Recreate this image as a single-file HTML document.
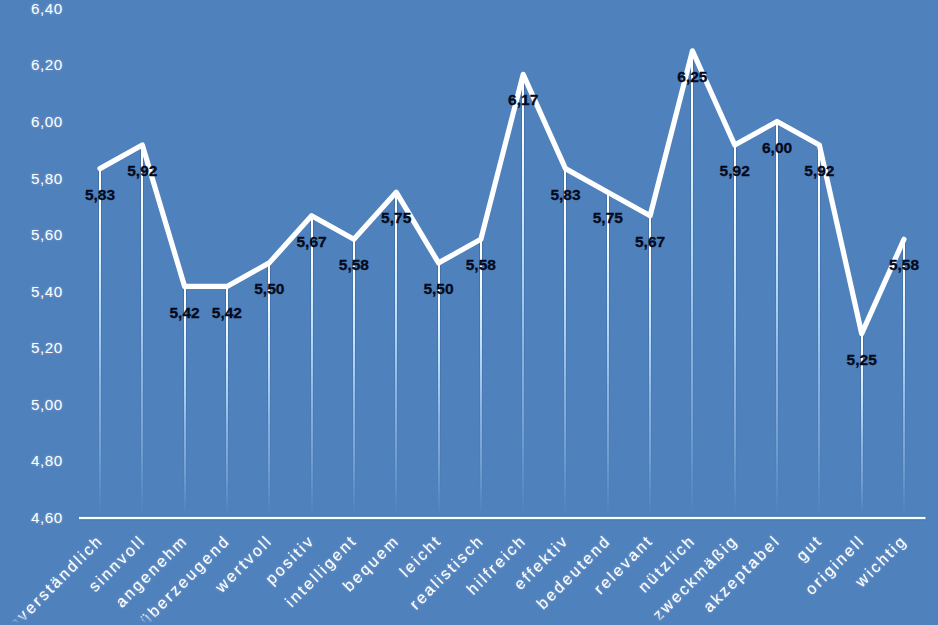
<!DOCTYPE html>
<html><head><meta charset="utf-8"><style>
html,body{margin:0;padding:0;}
body{width:938px;height:625px;overflow:hidden;background:#4F81BD;position:relative;font-family:"Liberation Sans",sans-serif;}
svg{position:absolute;left:0;top:0;}
.yl{position:absolute;color:#fff;text-shadow:0 0 3px rgba(255,255,255,0.35);font-size:15.2px;letter-spacing:0.5px;line-height:20px;height:20px;text-align:right;width:60px;}
.dl{position:absolute;color:#040a1a;-webkit-text-stroke:0.3px #040a1a;font-weight:bold;font-size:15.5px;letter-spacing:0px;line-height:20px;height:20px;width:60px;text-align:center;}
</style></head><body>

<svg width="938" height="625" viewBox="0 0 938 625">
<defs>
<linearGradient id="g" x1="0" y1="0" x2="0" y2="1"><stop offset="0" stop-color="#fff"/><stop offset="0.15" stop-color="#f5faff"/><stop offset="0.37" stop-color="#bee1ff"/><stop offset="0.62" stop-color="#8cb4e1"/><stop offset="0.81" stop-color="#73a0d2"/><stop offset="1" stop-color="#4f81bd"/></linearGradient>
<linearGradient id="h" x1="0" y1="0" x2="0" y2="1"><stop offset="0" stop-color="#1e3c64" stop-opacity="0.25"/><stop offset="1" stop-color="#1e3c64" stop-opacity="0"/></linearGradient>
<linearGradient id="fm" gradientUnits="userSpaceOnUse" x1="0" y1="614" x2="0" y2="623"><stop offset="0" stop-color="#fff"/><stop offset="1" stop-color="#000"/></linearGradient>
<mask id="m" maskUnits="userSpaceOnUse" x="0" y="0" width="938" height="625"><rect x="0" y="0" width="938" height="625" fill="url(#fm)"/></mask>
<filter id="gl" x="-5%" y="-5%" width="110%" height="110%"><feGaussianBlur in="SourceAlpha" stdDeviation="1.5" result="b"/><feFlood flood-color="#fff" flood-opacity="0.3"/><feComposite in2="b" operator="in" result="g"/><feMerge><feMergeNode in="g"/><feMergeNode in="SourceGraphic"/></feMerge></filter>
</defs>
<rect x="98" y="171.6" width="1" height="342.4" fill="url(#h)"/><rect x="101" y="171.6" width="1" height="342.4" fill="url(#h)"/>
<rect x="99" y="168.6" width="2.00" height="345.4" fill="url(#g)"/>
<rect x="140" y="148.0" width="1" height="366.0" fill="url(#h)"/><rect x="143" y="148.0" width="1" height="366.0" fill="url(#h)"/>
<rect x="141" y="145.0" width="2.00" height="369.0" fill="url(#g)"/>
<rect x="183" y="289.4" width="1" height="224.6" fill="url(#h)"/><rect x="186" y="289.4" width="1" height="224.6" fill="url(#h)"/>
<rect x="184" y="286.4" width="2.00" height="227.6" fill="url(#g)"/>
<rect x="225" y="289.4" width="1" height="224.6" fill="url(#h)"/><rect x="228" y="289.4" width="1" height="224.6" fill="url(#h)"/>
<rect x="226" y="286.4" width="2.00" height="227.6" fill="url(#g)"/>
<rect x="267" y="265.9" width="1" height="248.1" fill="url(#h)"/><rect x="270" y="265.9" width="1" height="248.1" fill="url(#h)"/>
<rect x="268" y="262.9" width="2.00" height="251.1" fill="url(#g)"/>
<rect x="310" y="218.7" width="1" height="295.3" fill="url(#h)"/><rect x="313" y="218.7" width="1" height="295.3" fill="url(#h)"/>
<rect x="311" y="215.7" width="2.00" height="298.3" fill="url(#g)"/>
<rect x="352" y="242.3" width="1" height="271.7" fill="url(#h)"/><rect x="355" y="242.3" width="1" height="271.7" fill="url(#h)"/>
<rect x="353" y="239.3" width="2.00" height="274.7" fill="url(#g)"/>
<rect x="394" y="195.2" width="1" height="318.8" fill="url(#h)"/><rect x="397" y="195.2" width="1" height="318.8" fill="url(#h)"/>
<rect x="395" y="192.2" width="2.00" height="321.8" fill="url(#g)"/>
<rect x="437" y="265.9" width="1" height="248.1" fill="url(#h)"/><rect x="440" y="265.9" width="1" height="248.1" fill="url(#h)"/>
<rect x="438" y="262.9" width="2.00" height="251.1" fill="url(#g)"/>
<rect x="479" y="242.3" width="1" height="271.7" fill="url(#h)"/><rect x="482" y="242.3" width="1" height="271.7" fill="url(#h)"/>
<rect x="480" y="239.3" width="2.00" height="274.7" fill="url(#g)"/>
<rect x="521" y="77.3" width="1" height="436.7" fill="url(#h)"/><rect x="524" y="77.3" width="1" height="436.7" fill="url(#h)"/>
<rect x="522" y="74.3" width="2.00" height="439.7" fill="url(#g)"/>
<rect x="563" y="171.6" width="1" height="342.4" fill="url(#h)"/><rect x="566" y="171.6" width="1" height="342.4" fill="url(#h)"/>
<rect x="564" y="168.6" width="2.00" height="345.4" fill="url(#g)"/>
<rect x="606" y="195.2" width="1" height="318.8" fill="url(#h)"/><rect x="609" y="195.2" width="1" height="318.8" fill="url(#h)"/>
<rect x="607" y="192.2" width="2.00" height="321.8" fill="url(#g)"/>
<rect x="648" y="218.7" width="1" height="295.3" fill="url(#h)"/><rect x="651" y="218.7" width="1" height="295.3" fill="url(#h)"/>
<rect x="649" y="215.7" width="2.00" height="298.3" fill="url(#g)"/>
<rect x="690" y="53.8" width="1" height="460.2" fill="url(#h)"/><rect x="693" y="53.8" width="1" height="460.2" fill="url(#h)"/>
<rect x="691" y="50.8" width="2.00" height="463.2" fill="url(#g)"/>
<rect x="733" y="148.0" width="1" height="366.0" fill="url(#h)"/><rect x="736" y="148.0" width="1" height="366.0" fill="url(#h)"/>
<rect x="734" y="145.0" width="2.00" height="369.0" fill="url(#g)"/>
<rect x="775" y="124.5" width="1" height="389.5" fill="url(#h)"/><rect x="778" y="124.5" width="1" height="389.5" fill="url(#h)"/>
<rect x="776" y="121.5" width="2.00" height="392.5" fill="url(#g)"/>
<rect x="817" y="148.0" width="1" height="366.0" fill="url(#h)"/><rect x="820" y="148.0" width="1" height="366.0" fill="url(#h)"/>
<rect x="818" y="145.0" width="2.00" height="369.0" fill="url(#g)"/>
<rect x="860" y="336.6" width="1" height="177.4" fill="url(#h)"/><rect x="863" y="336.6" width="1" height="177.4" fill="url(#h)"/>
<rect x="861" y="333.6" width="2.00" height="180.4" fill="url(#g)"/>
<rect x="902" y="242.3" width="1" height="271.7" fill="url(#h)"/><rect x="905" y="242.3" width="1" height="271.7" fill="url(#h)"/>
<rect x="903" y="239.3" width="2.00" height="274.7" fill="url(#g)"/>
<rect x="79.0" y="515.80" width="846.5" height="4.40" fill="#1e3c64" fill-opacity="0.25"/>
<rect x="79.0" y="516.80" width="846.5" height="2.40" fill="#f0ffff"/>
<polyline points="100.00,168.61 142.32,145.05 184.63,286.45 226.95,286.45 269.26,262.88 311.58,215.75 353.90,239.31 396.21,192.18 438.53,262.88 480.84,239.31 523.16,74.35 565.48,168.61 607.79,192.18 650.11,215.75 692.42,50.78 734.74,145.05 777.06,121.48 819.37,145.05 861.69,333.58 904.00,239.31" fill="none" stroke="#fff" stroke-width="5.20" stroke-linejoin="round" stroke-linecap="round"/>
<g mask="url(#m)"><g filter="url(#gl)">
<text x="0" y="0" transform="translate(104.30,541.50) rotate(-45)" text-anchor="end" fill="#fff" font-family="Liberation Sans" font-size="16" letter-spacing="2.4" stroke="#fff" stroke-width="0.12">unverständlich</text>
<text x="0" y="0" transform="translate(146.62,541.50) rotate(-45)" text-anchor="end" fill="#fff" font-family="Liberation Sans" font-size="16" letter-spacing="2.4" stroke="#fff" stroke-width="0.12">sinnvoll</text>
<text x="0" y="0" transform="translate(188.93,541.50) rotate(-45)" text-anchor="end" fill="#fff" font-family="Liberation Sans" font-size="16" letter-spacing="2.4" stroke="#fff" stroke-width="0.12">angenehm</text>
<text x="0" y="0" transform="translate(231.25,541.50) rotate(-45)" text-anchor="end" fill="#fff" font-family="Liberation Sans" font-size="16" letter-spacing="2.4" stroke="#fff" stroke-width="0.12">überzeugend</text>
<text x="0" y="0" transform="translate(273.56,541.50) rotate(-45)" text-anchor="end" fill="#fff" font-family="Liberation Sans" font-size="16" letter-spacing="2.4" stroke="#fff" stroke-width="0.12">wertvoll</text>
<text x="0" y="0" transform="translate(315.88,541.50) rotate(-45)" text-anchor="end" fill="#fff" font-family="Liberation Sans" font-size="16" letter-spacing="2.4" stroke="#fff" stroke-width="0.12">positiv</text>
<text x="0" y="0" transform="translate(358.20,541.50) rotate(-45)" text-anchor="end" fill="#fff" font-family="Liberation Sans" font-size="16" letter-spacing="2.4" stroke="#fff" stroke-width="0.12">intelligent</text>
<text x="0" y="0" transform="translate(400.51,541.50) rotate(-45)" text-anchor="end" fill="#fff" font-family="Liberation Sans" font-size="16" letter-spacing="2.4" stroke="#fff" stroke-width="0.12">bequem</text>
<text x="0" y="0" transform="translate(442.83,541.50) rotate(-45)" text-anchor="end" fill="#fff" font-family="Liberation Sans" font-size="16" letter-spacing="2.4" stroke="#fff" stroke-width="0.12">leicht</text>
<text x="0" y="0" transform="translate(485.14,541.50) rotate(-45)" text-anchor="end" fill="#fff" font-family="Liberation Sans" font-size="16" letter-spacing="2.4" stroke="#fff" stroke-width="0.12">realistisch</text>
<text x="0" y="0" transform="translate(527.46,541.50) rotate(-45)" text-anchor="end" fill="#fff" font-family="Liberation Sans" font-size="16" letter-spacing="2.4" stroke="#fff" stroke-width="0.12">hilfreich</text>
<text x="0" y="0" transform="translate(569.78,541.50) rotate(-45)" text-anchor="end" fill="#fff" font-family="Liberation Sans" font-size="16" letter-spacing="2.4" stroke="#fff" stroke-width="0.12">effektiv</text>
<text x="0" y="0" transform="translate(612.09,541.50) rotate(-45)" text-anchor="end" fill="#fff" font-family="Liberation Sans" font-size="16" letter-spacing="2.4" stroke="#fff" stroke-width="0.12">bedeutend</text>
<text x="0" y="0" transform="translate(654.41,541.50) rotate(-45)" text-anchor="end" fill="#fff" font-family="Liberation Sans" font-size="16" letter-spacing="2.4" stroke="#fff" stroke-width="0.12">relevant</text>
<text x="0" y="0" transform="translate(696.72,541.50) rotate(-45)" text-anchor="end" fill="#fff" font-family="Liberation Sans" font-size="16" letter-spacing="2.4" stroke="#fff" stroke-width="0.12">nützlich</text>
<text x="0" y="0" transform="translate(739.04,541.50) rotate(-45)" text-anchor="end" fill="#fff" font-family="Liberation Sans" font-size="16" letter-spacing="2.4" stroke="#fff" stroke-width="0.12">zweckmäßig</text>
<text x="0" y="0" transform="translate(781.36,541.50) rotate(-45)" text-anchor="end" fill="#fff" font-family="Liberation Sans" font-size="16" letter-spacing="2.4" stroke="#fff" stroke-width="0.12">akzeptabel</text>
<text x="0" y="0" transform="translate(823.67,541.50) rotate(-45)" text-anchor="end" fill="#fff" font-family="Liberation Sans" font-size="16" letter-spacing="2.4" stroke="#fff" stroke-width="0.12">gut</text>
<text x="0" y="0" transform="translate(865.99,541.50) rotate(-45)" text-anchor="end" fill="#fff" font-family="Liberation Sans" font-size="16" letter-spacing="2.4" stroke="#fff" stroke-width="0.12">originell</text>
<text x="0" y="0" transform="translate(908.30,541.50) rotate(-45)" text-anchor="end" fill="#fff" font-family="Liberation Sans" font-size="16" letter-spacing="2.4" stroke="#fff" stroke-width="0.12">wichtig</text>
</g></g>
</svg>
<div class="yl" style="left:2.6px;top:507.9px">4,60</div>
<div class="yl" style="left:2.6px;top:451.3px">4,80</div>
<div class="yl" style="left:2.6px;top:394.8px">5,00</div>
<div class="yl" style="left:2.6px;top:338.2px">5,20</div>
<div class="yl" style="left:2.6px;top:281.7px">5,40</div>
<div class="yl" style="left:2.6px;top:225.1px">5,60</div>
<div class="yl" style="left:2.6px;top:168.5px">5,80</div>
<div class="yl" style="left:2.6px;top:112.0px">6,00</div>
<div class="yl" style="left:2.6px;top:55.4px">6,20</div>
<div class="yl" style="left:2.6px;top:-1.1px">6,40</div>
<div class="dl" style="left:70.0px;top:184.7px">5,83</div>
<div class="dl" style="left:112.3px;top:161.1px">5,92</div>
<div class="dl" style="left:154.6px;top:302.5px">5,42</div>
<div class="dl" style="left:196.9px;top:302.5px">5,42</div>
<div class="dl" style="left:239.3px;top:279.0px">5,50</div>
<div class="dl" style="left:281.6px;top:231.8px">5,67</div>
<div class="dl" style="left:323.9px;top:255.4px">5,58</div>
<div class="dl" style="left:366.2px;top:208.3px">5,75</div>
<div class="dl" style="left:408.5px;top:279.0px">5,50</div>
<div class="dl" style="left:450.8px;top:255.4px">5,58</div>
<div class="dl" style="left:493.2px;top:90.4px">6,17</div>
<div class="dl" style="left:535.5px;top:184.7px">5,83</div>
<div class="dl" style="left:577.8px;top:208.3px">5,75</div>
<div class="dl" style="left:620.1px;top:231.8px">5,67</div>
<div class="dl" style="left:662.4px;top:66.9px">6,25</div>
<div class="dl" style="left:704.7px;top:161.1px">5,92</div>
<div class="dl" style="left:747.1px;top:137.6px">6,00</div>
<div class="dl" style="left:789.4px;top:161.1px">5,92</div>
<div class="dl" style="left:831.7px;top:349.7px">5,25</div>
<div class="dl" style="left:874.0px;top:255.4px">5,58</div>
</body></html>
